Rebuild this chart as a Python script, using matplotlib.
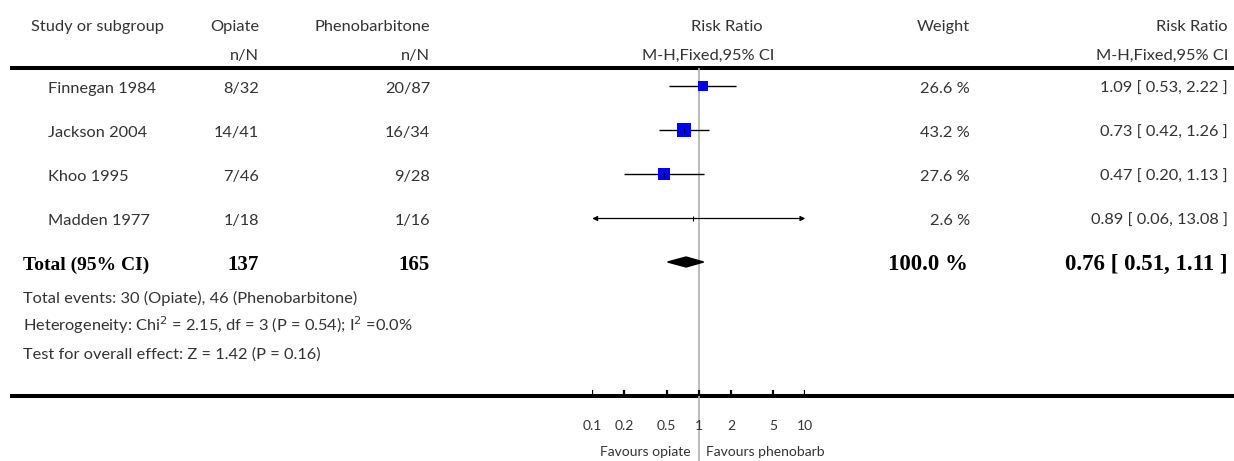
import numpy as np
import matplotlib.pyplot as plt

# ---- data ----
studies = ["Finnegan 1984", "Jackson 2004", "Khoo 1995", "Madden 1977"]
opiate_nN = ["8/32", "14/41", "7/46", "1/18"]
pheno_nN = ["20/87", "16/34", "9/28", "1/16"]
rr = [1.09, 0.73, 0.47, 0.89]
ci_lo = [0.53, 0.42, 0.20, 0.06]
ci_hi = [2.22, 1.26, 1.13, 13.08]
weights = [26.6, 43.2, 27.6, 2.6]

total_opiate = 137
total_pheno = 165
total_rr, total_lo, total_hi = 0.76, 0.51, 1.11
total_weight = 100.0

footer_lines = [
    "Total events: 30 (Opiate), 46 (Phenobarbitone)",
    r"Heterogeneity: Chi$^{2}$ = 2.15, df = 3 (P = 0.54); I$^{2}$ =0.0%",
    "Test for overall effect: Z = 1.42 (P = 0.16)",
]
tick_vals = [0.1, 0.2, 0.5, 1, 2, 5, 10]
tick_labels = ["0.1", "0.2", "0.5", "1", "2", "5", "10"]
left_label = "Favours opiate"
right_label = "Favours phenobarb"

# ---- layout (pixel coords, y down) ----
W, H = 1234, 461
row_y = [86.5, 130.5, 174.5, 218.5]
total_y = 262
foot_base = [303, 331, 359]
top_line_y, bot_line_y = 68, 396

sans = ["Lato", "DejaVu Sans"]
serif = ["Liberation Serif", "DejaVu Serif"]
fs = 11.8
tc = "#333333"

fig = plt.figure(figsize=(W / 100, H / 100), dpi=100)
ax = fig.add_axes([0, 0, 1, 1])
ax.set_xlim(0, W)
ax.set_ylim(H, 0)
ax.axis("off")

def txt(x, y, s, ha="left", **kw):
    # y is the text baseline
    kw.setdefault("family", sans)
    kw.setdefault("fontsize", fs)
    kw.setdefault("color", tc)
    ax.text(x, y, s, ha=ha, va="baseline", **kw)

# headers
txt(31, 31, "Study or subgroup")
txt(259, 31, "Opiate", ha="right")
txt(430, 31, "Phenobarbitone", ha="right")
txt(727, 31, "Risk Ratio", ha="center")
txt(970, 31, "Weight", ha="right")
txt(1228, 31, "Risk Ratio", ha="right")
txt(259, 60, "n/N", ha="right")
txt(430, 60, "n/N", ha="right")
txt(708, 60, "M-H,Fixed,95% CI", ha="center")
txt(1228, 60, "M-H,Fixed,95% CI", ha="right")

ax.hlines([top_line_y, bot_line_y], 10, W, color="black", lw=2.9)

# study rows
for i, y in enumerate(row_y):
    b = y + 6.5
    txt(48, b, studies[i])
    txt(259, b, opiate_nN[i], ha="right")
    txt(430, b, pheno_nN[i], ha="right")
    txt(970, b, f"{weights[i]:.1f} %", ha="right")
    txt(1228, b, f"{rr[i]:.2f} [ {ci_lo[i]:.2f}, {ci_hi[i]:.2f} ]", ha="right")

# total row
bold = dict(family=serif, fontweight="bold", color="black")
tb = total_y + 7.5
txt(23, tb, "Total (95% CI)", fontsize=14, **bold)
txt(259, tb, str(total_opiate), ha="right", fontsize=15, **bold)
txt(430, tb, str(total_pheno), ha="right", fontsize=15, **bold)
txt(968, tb, f"{total_weight:.1f} %", ha="right", fontsize=16.5, **bold)
txt(1228, tb, f"{total_rr:.2f} [ {total_lo:.2f}, {total_hi:.2f} ]", ha="right",
    fontsize=16.5, **bold)

for b, s in zip(foot_base, footer_lines):
    txt(23, b, s)

# ---- forest panel ----
fax = fig.add_axes([592.3 / W, 0, 213.0 / W, 1])
fax.set_xscale("log")
fax.set_xlim(0.1, 10)
fax.set_ylim(H, 0)
fax.axis("off")

fax.vlines(1, top_line_y, H, color="#b0b0b0", lw=1.2, zorder=1)

for i, y in enumerate(row_y):
    lo = max(ci_lo[i], 0.1)
    hi = min(ci_hi[i], 10)
    if ci_lo[i] < 0.1 or ci_hi[i] > 10:
        for end in (lo, hi):
            fax.annotate("", xy=(end, y), xytext=(rr[i], y),
                         arrowprops=dict(arrowstyle="-|>", color="black", lw=0.9,
                                         mutation_scale=7, shrinkA=0, shrinkB=0))
    else:
        fax.hlines(y, lo, hi, color="black", lw=1.0, zorder=2)
    side_pt = 2.1 * np.sqrt(weights[i]) * 0.72
    if side_pt > 3:
        fax.scatter([rr[i]], [y], marker="s", s=side_pt ** 2, color="#0000ff",
                    linewidths=0, zorder=3)
    fax.vlines(rr[i], y - 2.5, y + 2.5, color="black", lw=0.8, zorder=4)

# pooled diamond
fax.fill([total_lo, total_rr, total_hi, total_rr],
         [total_y, total_y - 5, total_y, total_y + 5], color="black", zorder=3)

# scale ticks
fax.vlines(tick_vals, bot_line_y - 6, bot_line_y, color="black", lw=1.6)
for v, lab in zip(tick_vals, tick_labels):
    fax.text(v, 430, lab, ha="center", va="baseline", family=sans, fontsize=10, color=tc)
fax.text(0.835, 456, left_label, ha="right", va="baseline", family=sans, fontsize=10, color=tc)
fax.text(1.18, 456, right_label, ha="left", va="baseline", family=sans, fontsize=10, color=tc)

fig.savefig("out.png", dpi=100)
